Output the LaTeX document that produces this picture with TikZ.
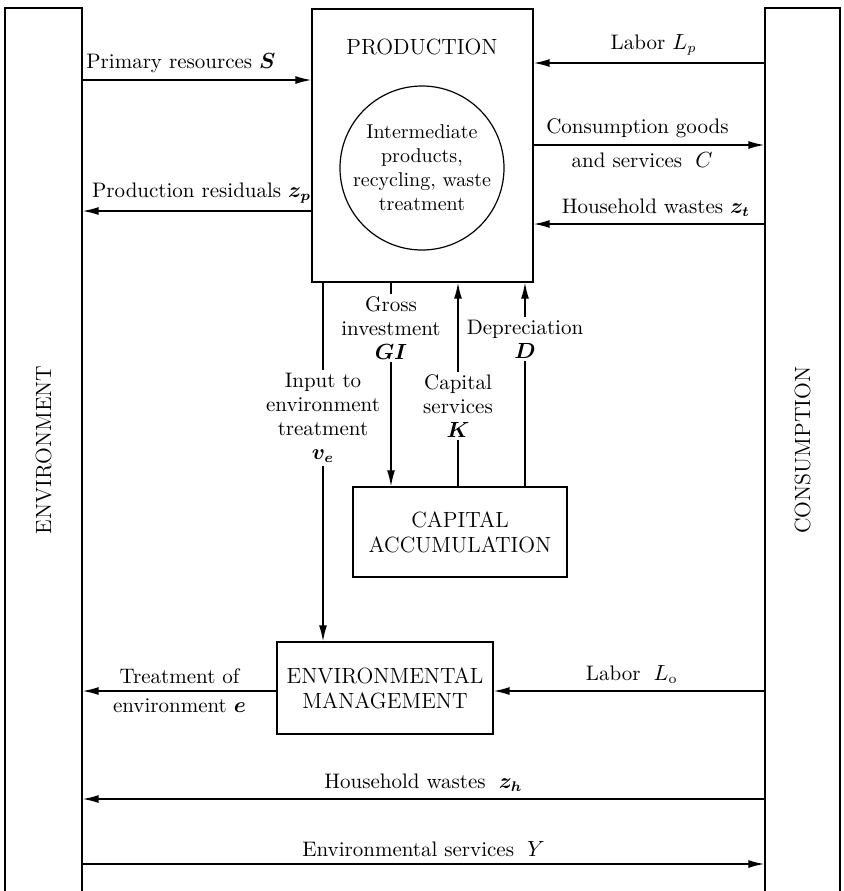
\documentclass[tikz,border=0pt]{standalone}
\usepackage{amsmath}
\usepackage{bm}
\usetikzlibrary{arrows,arrows.meta,positioning,calc}

\begin{document}
\begin{tikzpicture}[>={Latex[length=8pt,width=4pt]}, thick, x=0.5pt, y=-0.5pt, node distance=1cm, every node/.style={font=\fontsize{10.5}{12}\selectfont}]
		\tikzstyle{block}=[draw=black,text=black,semithick,rectangle,inner sep=0pt,align=center,font=\fontsize{11}{12.5}\selectfont]
		\tikzstyle{side}=[draw=black,semithick,rectangle,inner sep=0pt,minimum height=446pt]
		\tikzstyle{lbl}=[inner sep=1pt,align=center]

		\useasboundingbox (0,0) rectangle (844,891);
		\clip (0,0) rectangle (844,891);

		\begin{scope}
			\node[side,minimum width=38.5pt] (env) at (43.5,454) {}; \node[side,minimum
			width=37.5pt] (cons) at (802.5,454) {}; \node[rotate=90,font=\fontsize{11}{13}\selectfont] (envtxt) at
			(43.5,450) {ENVIRONMENT}; \node[rotate=90,font=\fontsize{11}{13}\selectfont] (constxt) at (802.5,450)
			{CONSUMPTION};

			\node[block,minimum width=110.5pt,minimum height=136.5pt] (prod) at
			(422.5,145.5) {}; \node[font=\fontsize{11}{13}\selectfont] (prodtxt) at (422,47) {PRODUCTION};
			\node[circle,draw,semithick,minimum size=82pt,inner sep=0pt,align=center,font=\normalsize]
			(inter) at (422,168) {Intermediate\\products,\\recycling, waste\\treatment};
			\node[block,minimum width=107pt,minimum height=45pt] (cap) at (460,532)
			{CAPITAL\\ACCUMULATION}; \node[block,minimum width=108pt,minimum
			height=46pt] (envm) at (385,688) {ENVIRONMENTAL\\MANAGEMENT};

			\coordinate (rLp) at (0,63); \coordinate (rS) at (0,80); \coordinate
			(rC) at (0,145); \coordinate (rzp) at (0,211); \coordinate (rzt) at
			(0,224); \coordinate (re) at (0,691); \coordinate (rzh) at (0,799);
			\coordinate (rY) at (0,864);

			\draw[->] (env.east |- rS) -- node[above,pos=0.43] {Primary resources
			$\bm{S}$} (prod.west |- rS); \draw[->] (prod.west |- rzp) --
			node[above,pos=0.48] {Production residuals $\bm{z_p}$} (env.east |- rzp);
			\draw[->] (cons.west |- rLp) -- node[above,pos=0.48] {Labor $L_p$}
			(prod.east |- rLp); \draw[->] (prod.east |- rC) -- node[above,pos=0.45]
			{Consumption goods} node[below,pos=0.47] {and services $\;C$} (cons.west
			|- rC); \draw[->] (cons.west |- rzt) -- node[above,pos=0.47] {Household
			wastes $\bm{z_t}$} (prod.east |- rzt);

			\node[lbl] (inlbl) at (323,418) {Input to\\environment\\treatment\\$\bm{v_e}$};
			\node[lbl] (gilbl) at (391,328) {Gross\\investment\\$\bm{GI}$};
			\node[lbl] (klbl) at (458,406) {Capital\\services\\$\bm{K}$};
			\node[lbl] (dlbl) at (525,339) {Depreciation\\$\bm{D}$};

			\draw (prod.south -| inlbl) -- (inlbl.north); \draw[->] (inlbl.south)
			-- (envm.north -| inlbl); \draw (prod.south -| gilbl) -- (gilbl.north);
			\draw[->] (gilbl.south) -- (cap.north -| gilbl); \draw (cap.north -|
			klbl) -- (klbl.south); \draw[->] (klbl.north) -- (prod.south -| klbl);
			\draw (cap.north -| dlbl) -- (dlbl.south); \draw[->] (dlbl.north) --
			(prod.south -| dlbl);

			\draw[->] (envm.west |- re) -- node[above] {Treatment of} node[below]
			{environment $\bm{e}$} (env.east |- re); \draw[->] (cons.west |- re) --
			node[above,pos=0.49] {Labor $\;L_{\mathrm{o}}$} (envm.east |- re);
			\draw[->] (cons.west |- rzh) -- node[above] {Household wastes
			$\;\bm{z_h}$} (env.east |- rzh); \draw[->] (env.east |- rY) --
			node[above] {Environmental services $\;Y$} (cons.west |- rY);
		\end{scope}
	\end{tikzpicture}
\end{document}
